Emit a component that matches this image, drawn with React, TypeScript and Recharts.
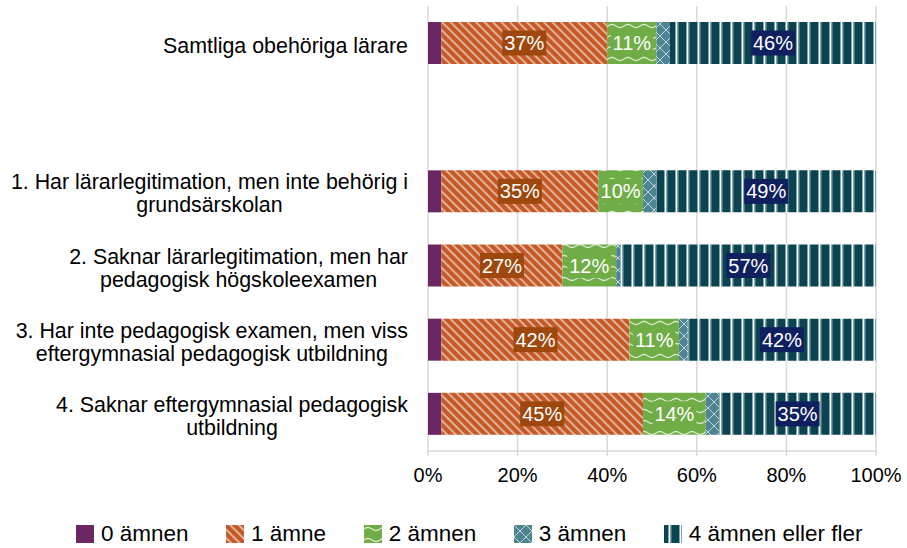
import { BarChart, Bar, XAxis, YAxis, CartesianGrid, LabelList } from 'recharts'

const FONT = '"Liberation Sans", Arial, sans-serif'

const categories = [
  'Samtliga obehöriga lärare',
  '',
  '1. Har lärarlegitimation, men inte behörig i grundsärskolan',
  '2. Saknar lärarlegitimation, men har pedagogisk högskoleexamen',
  '3. Har inte pedagogisk examen, men viss eftergymnasial pedagogisk utbildning',
  '4. Saknar eftergymnasial pedagogisk utbildning',
]

// wrapped the way the original axis wraps them
const categoryLines = [
  ['Samtliga obehöriga lärare'],
  [],
  ['1. Har lärarlegitimation, men inte behörig i', 'grundsärskolan'],
  ['2. Saknar lärarlegitimation, men har', 'pedagogisk högskoleexamen'],
  ['3. Har inte pedagogisk examen, men viss', 'eftergymnasial pedagogisk utbildning'],
  ['4. Saknar eftergymnasial pedagogisk', 'utbildning'],
]

const seriesNames = ['0 ämnen', '1 ämne', '2 ämnen', '3 ämnen', '4 ämnen eller fler']

const amne0 = [3, null, 3, 3, 3, 3]
const amne1 = [37, null, 35, 27, 42, 45]
const amne2 = [11, null, 10, 12, 11, 14]
const amne3 = [3, null, 3, 1, 2, 3]
const amne4 = [46, null, 49, 57, 42, 35]

const xTicks = [0, 20, 40, 60, 80, 100]

const data = categories.map((name, i) => ({
  name,
  a0: amne0[i],
  a1: amne1[i],
  a2: amne2[i],
  a3: amne3[i],
  a4: amne4[i],
}))

const fills = ['#6B2763', 'url(#pat1)', 'url(#pat2)', 'url(#pat3)', 'url(#pat4)']

let ctx: CanvasRenderingContext2D | null = null
function textWidth(s: string, size: number) {
  if (!ctx) ctx = document.createElement('canvas').getContext('2d')
  if (!ctx) return s.length * size * 0.5
  ctx.font = `${size}px "Liberation Sans"`
  return ctx.measureText(s).width
}

function CategoryTick(props: any) {
  const { x, y, payload } = props
  const idx = categories.indexOf(payload.value)
  const lines = categoryLines[idx] ?? []
  if (!lines.length) return null
  const size = 21.4
  const lh = 23
  const maxW = Math.max(...lines.map((l) => textWidth(l, size)))
  const cx = x - 20 - maxW / 2
  return (
    <g>
      {lines.map((l, i) => (
        <text
          key={i}
          x={cx}
          y={y + 2 + (i - (lines.length - 1) / 2) * lh + size * 0.35}
          textAnchor="middle"
          fontSize={size}
          fontFamily={FONT}
          fill="#000"
        >
          {l}
        </text>
      ))}
    </g>
  )
}

function boxLabel(bg: string) {
  return (props: any) => {
    const { x, y, width, height, value } = props
    if (value == null) return null
    const txt = `${value}%`
    const w = textWidth(txt, 20) + 4
    const h = 25
    const cx = x + width / 2
    const cy = y + height / 2
    return (
      <g>
        <rect x={cx - w / 2} y={cy - h / 2} width={w} height={h} fill={bg} />
        <text
          x={cx}
          y={cy + 7}
          textAnchor="middle"
          fontSize={20}
          fontFamily={FONT}
          fill="#fff"
        >
          {txt}
        </text>
      </g>
    )
  }
}

function Patterns() {
  return (
    <defs>
      <pattern id="pat1" width="6" height="6" patternUnits="userSpaceOnUse" patternTransform="rotate(45)">
        <rect width="6" height="6" fill="#C45A27" />
        <rect y="2.4" width="6" height="1.3" fill="#fff" opacity="0.8" />
      </pattern>
      <pattern id="pat2" width="16" height="11" patternUnits="userSpaceOnUse">
        <rect width="16" height="11" fill="#70AD47" />
        <path d="M0 4 Q4 1 8 4 T16 4" fill="none" stroke="#fff" strokeWidth="1.3" opacity="0.7" />
      </pattern>
      <pattern id="pat3" width="12" height="12" patternUnits="userSpaceOnUse">
        <rect width="12" height="12" fill="#4E8593" />
        <path d="M0 0 L12 12 M12 0 L0 12" stroke="#fff" strokeWidth="1" opacity="0.65" />
      </pattern>
      <pattern id="pat4" width="11" height="11" patternUnits="userSpaceOnUse">
        <rect width="11" height="11" fill="#0B4450" />
        <rect x="4" width="1" height="11" fill="#7fa5a9" />
        <rect x="5" width="1.5" height="11" fill="#fff" />
        <rect x="6.5" width="1" height="11" fill="#7fa5a9" />
      </pattern>
    </defs>
  )
}

function LegendRow() {
  return (
    <div
      style={{
        position: 'absolute',
        left: 76,
        top: 522,
        display: 'flex',
        alignItems: 'center',
        gap: 37.5,
        fontFamily: FONT,
        fontSize: 22.5,
        color: '#000',
        whiteSpace: 'nowrap',
      }}
    >
      {seriesNames.map((n, i) => (
        <div key={n} style={{ display: 'flex', alignItems: 'center', gap: 7 }}>
          <svg width={18} height={18} style={{ display: 'block' }}>
            <rect width={18} height={18} fill={fills[i]} />
          </svg>
          <span style={{ lineHeight: '24px' }}>{n}</span>
        </div>
      ))}
    </div>
  )
}

export default function App() {
  return (
    <div style={{ position: 'absolute', left: 0, top: 0, width: 907, height: 548, background: '#fff' }}>
      <BarChart
        width={907}
        height={548}
        data={data}
        layout="vertical"
        margin={{ top: 6, right: 31, bottom: 57, left: 0 }}
        barSize={42}
      >
        <Patterns />
        <CartesianGrid horizontal={false} stroke="#d9d9d9" strokeWidth={1.5} />
        <XAxis
          type="number"
          domain={[0, 100]}
          ticks={xTicks}
          interval={0}
          tickFormatter={(v: number) => `${v}%`}
          axisLine={{ stroke: '#d9d9d9', strokeWidth: 1.5 }}
          tickLine={{ stroke: '#d9d9d9', strokeWidth: 1.5 }}
          tickSize={5}
          tickMargin={12}
          height={40}
          tick={{ fontSize: 20, fill: '#000', fontFamily: FONT }}
        />
        <YAxis
          type="category"
          dataKey="name"
          width={428}
          axisLine={false}
          tickLine={false}
          tickSize={0}
          tickMargin={0}
          interval={0}
          tick={<CategoryTick />}
        />
        <Bar dataKey="a0" stackId="s" fill={fills[0]} isAnimationActive={false} />
        <Bar dataKey="a1" stackId="s" fill={fills[1]} isAnimationActive={false}>
          <LabelList dataKey="a1" content={boxLabel('#9E480E')} />
        </Bar>
        <Bar dataKey="a2" stackId="s" fill={fills[2]} isAnimationActive={false}>
          <LabelList dataKey="a2" content={boxLabel('#70AD47')} />
        </Bar>
        <Bar dataKey="a3" stackId="s" fill={fills[3]} isAnimationActive={false} />
        <Bar dataKey="a4" stackId="s" fill={fills[4]} isAnimationActive={false}>
          <LabelList dataKey="a4" content={boxLabel('#0F205F')} />
        </Bar>
      </BarChart>
      <LegendRow />
    </div>
  )
}
